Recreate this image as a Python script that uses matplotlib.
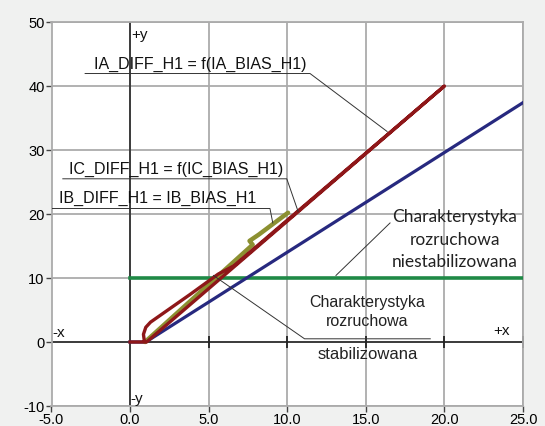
import numpy as np
import matplotlib
matplotlib.use("Agg")
import matplotlib.pyplot as plt

# ticks
x_ticks = [-5, 0, 5, 10, 15, 20, 25]
y_ticks = [-10, 0, 10, 20, 30, 40, 50]

# charakterystyka stabilizowana (niebieska)
blue_x = [0.0, 1.0, 25.0]
blue_y = [0.0, 0.0, 37.4]

# charakterystyka niestabilizowana (zielona)
green_x = [0.0, 25.0]
green_y = [10.0, 10.0]

# IA_DIFF = f(IA_BIAS) - petla
red_x = [0.0, 1.05, 20.0, 6.6, 5.6, 3.8, 1.3, 1.0, 0.85, 0.9]
red_y = [0.0, 0.0, 40.0, 11.9, 10.6, 7.4, 3.1, 2.3, 1.2, 0.3]

# IB / IC
olive_x = [0.95, 7.8, 7.6, 8.2, 10.05]
olive_y = [0.0, 15.2, 15.8, 16.8, 20.2]

# opisy
ia_text = "IA_DIFF_H1 = f(IA_BIAS_H1)"
ic_text = "IC_DIFF_H1 = f(IC_BIAS_H1)"
ib_text = "IB_DIFF_H1 = IB_BIAS_H1"
nst_text = "Charakterystyka\nrozruchowa\nniestabilizowana"
st_text1 = "Charakterystyka\nrozruchowa"
st_text2 = "stabilizowana"

# linie odniesienia opisow
ia_lead_x = [-2.86, 11.45, 16.35]
ia_lead_y = [41.95, 41.95, 32.9]
ic_lead_x = [-4.28, 9.97, 10.69]
ic_lead_y = [25.5, 25.5, 20.4]
ib_lead_x = [-5.0, 8.9, 9.08]
ib_lead_y = [20.86, 20.86, 18.6]
nst_lead_x = [16.54, 13.1]
nst_lead_y = [18.6, 10.4]
st_lead_x = [19.1, 11.1, 5.3]
st_lead_y = [0.5, 0.5, 10.4]

fig = plt.figure(figsize=(5.45, 4.27), dpi=100)
fig.patch.set_facecolor("#f0f1f0")
ax = fig.add_axes([51.5 / 545, 20 / 427, 471.5 / 545, 384 / 427])
ax.set_facecolor("white")

ax.set_xlim(-5, 25)
ax.set_ylim(-10, 50)
ax.set_xticks(x_ticks)
ax.set_yticks(y_ticks)
ax.set_xticklabels(["%.1f" % v for v in x_ticks])
ax.set_yticklabels([str(v) for v in y_ticks])
ax.tick_params(labelsize=10.5, length=4, width=1, color="#444444", pad=1)
ax.tick_params(axis="x", pad=0)
for lab in ax.get_xticklabels() + ax.get_yticklabels():
    lab.set_family("Liberation Sans")
ax.grid(True, color="#ababab", linewidth=1.3)
ax.set_axisbelow(True)
for s in ax.spines.values():
    s.set_color("#ababab")
    s.set_linewidth(1.3)

# osie x=0, y=0
ax.axhline(0, color="#333333", linewidth=1.3, zorder=2)
ax.axvline(0, color="#333333", linewidth=1.3, zorder=2)
ax.plot(x_ticks[2:], [0] * len(x_ticks[2:]), "|", color="#222222",
        markersize=9, markeredgewidth=1.3, zorder=2)

ax.plot(green_x, green_y, color="#1f8a46", linewidth=2.6, zorder=3)
ax.plot(blue_x, blue_y, color="#27297f", linewidth=2.3, zorder=3)
ax.plot(olive_x, olive_y, color="#8c9031", linewidth=3.2, zorder=4,
        solid_capstyle="round")
ax.plot(red_x, red_y, color="#8e1719", linewidth=2.4, zorder=5,
        solid_joinstyle="round")

lc = dict(color="#333333", linewidth=0.7, zorder=6)
ax.plot(ia_lead_x, ia_lead_y, **lc)
ax.plot(ic_lead_x, ic_lead_y, **lc)
ax.plot(ib_lead_x, ib_lead_y, **lc)
ax.plot(nst_lead_x, nst_lead_y, **lc)
ax.plot(st_lead_x, st_lead_y, **lc)

tf = dict(family="Liberation Sans", fontsize=11.5, color="#111111", zorder=7)
ax.text(4.45, 43.5, ia_text, ha="center", va="center", **tf)
ax.text(2.96, 27.06, ic_text, ha="center", va="center", **tf)
ax.text(1.74, 22.6, ib_text, ha="center", va="center", **tf)

ax.text(20.67, 16.1, nst_text, ha="center", va="center", family="Lato",
        fontsize=12.5, color="#222222", linespacing=1.5, zorder=7)
ax.text(15.1, 4.8, st_text1, ha="center", va="center", family="Liberation Sans",
        fontsize=11.5, color="#222222", linespacing=1.35, zorder=7)
ax.text(15.1, -1.8, st_text2, ha="center", va="center", family="Liberation Sans",
        fontsize=12, color="#222222", zorder=7)

sf = dict(family="Liberation Sans", fontsize=11, color="#111111", zorder=7)
ax.text(0.1, 48.2, "+y", ha="left", va="center", **sf)
ax.text(0.05, -8.8, "-y", ha="left", va="center", **sf)
ax.text(-4.95, 1.5, "-x", ha="left", va="center", **sf)
ax.text(23.1, 1.8, "+x", ha="left", va="center", **sf)

fig.savefig("out.png", dpi=100, facecolor=fig.get_facecolor())
